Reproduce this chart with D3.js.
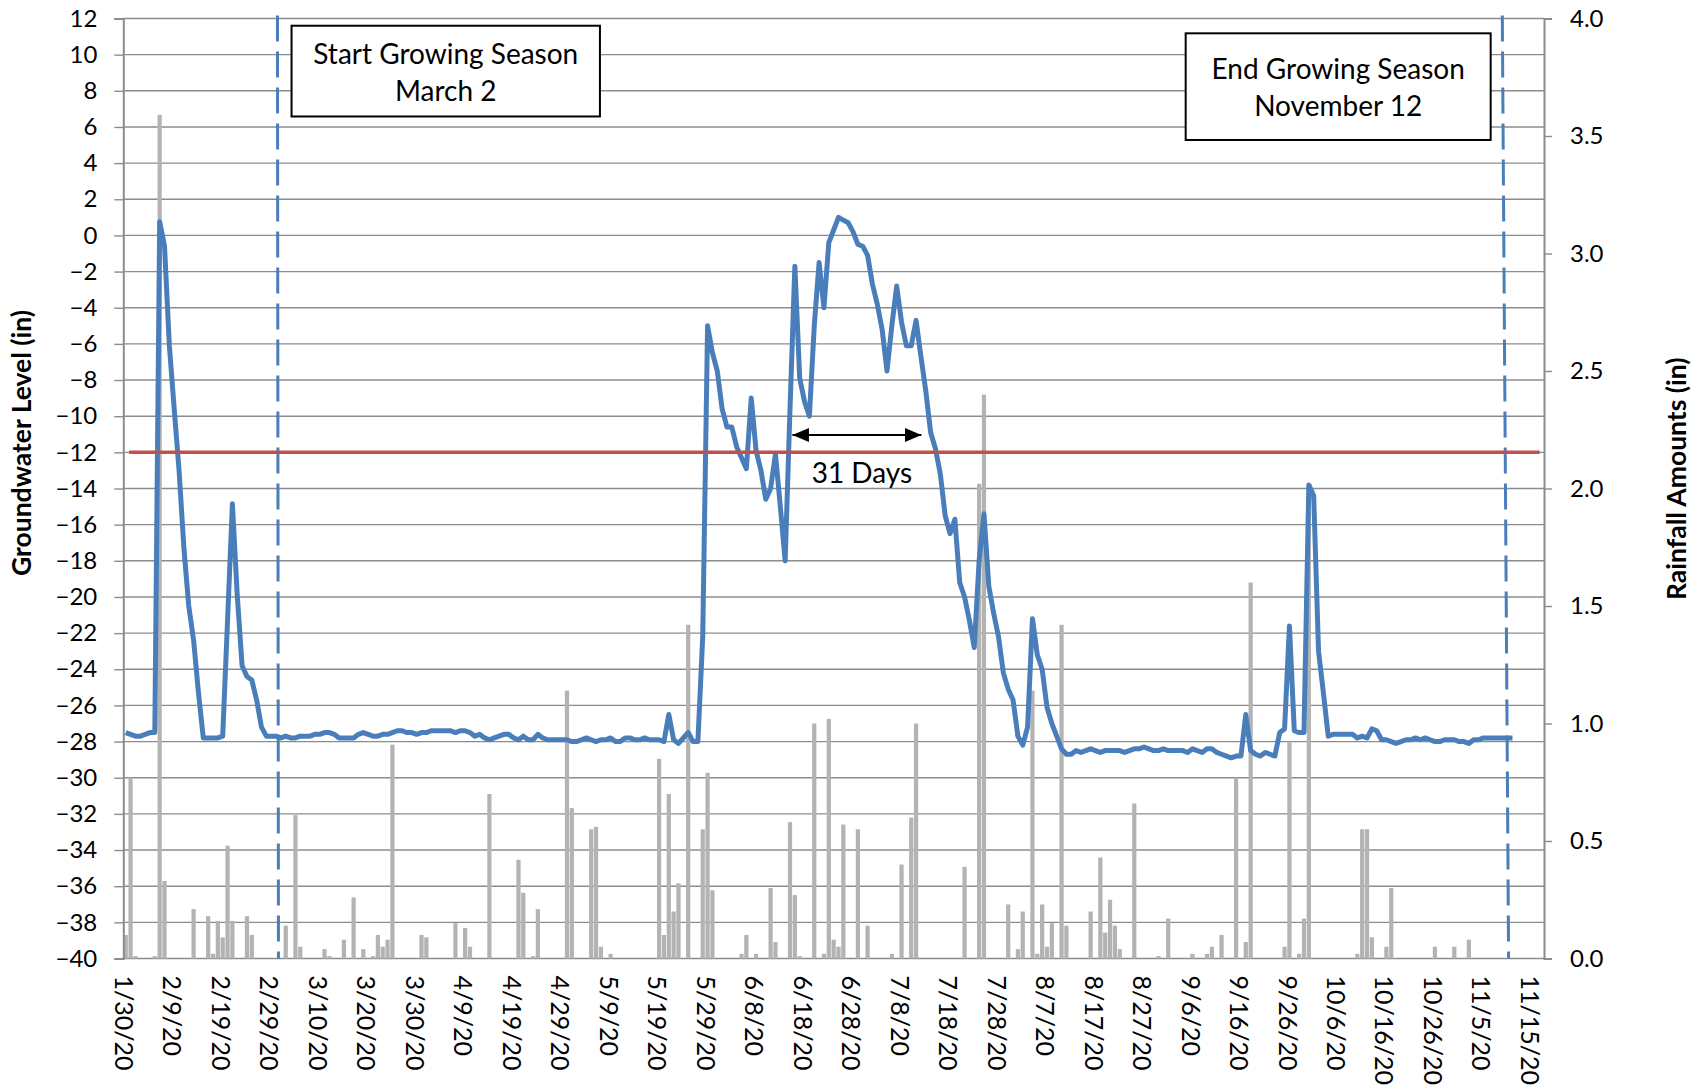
<!DOCTYPE html>
<html>
<head>
<meta charset="utf-8">
<script src="https://cdnjs.cloudflare.com/ajax/libs/d3/7.8.5/d3.min.js"></script>
<style>
body { margin: 0; background: #fff; }
svg { display: block; font-family: Lato, "Open Sans", sans-serif; }
</style>
</head>
<body>
<div id="chart"></div>
<script>
// groundwater level (in), one reading a day from 1/30/20 to 11/12/20
var startDate = "1/30/2020";
var groundwater = [
  -27.5, -27.6, -27.7, -27.7, -27.6, -27.5, -27.5, 0.76, -0.58, -6.1,
  -9.6, -13.0, -17.3, -20.5, -22.4, -25.3, -27.8, -27.8, -27.8, -27.8,
  -27.7, -21.3, -14.85, -19.9, -23.8, -24.4, -24.6, -25.7, -27.2, -27.7,
  -27.7, -27.7, -27.8, -27.7, -27.8, -27.8, -27.7, -27.7, -27.7, -27.6,
  -27.6, -27.5, -27.5, -27.6, -27.8, -27.8, -27.8, -27.8, -27.6, -27.5,
  -27.6, -27.7, -27.7, -27.6, -27.6, -27.5, -27.4, -27.4, -27.5, -27.5,
  -27.6, -27.5, -27.5, -27.4, -27.4, -27.4, -27.4, -27.4, -27.5, -27.4,
  -27.4, -27.5, -27.7, -27.6, -27.8, -27.9, -27.8, -27.7, -27.6, -27.6,
  -27.8, -27.9, -27.7, -27.9, -27.9, -27.6, -27.8, -27.9, -27.9, -27.9,
  -27.9, -27.9, -28.0, -28.0, -27.9, -27.8, -27.9, -28.0, -27.9, -27.9,
  -27.8, -28.0, -28.0, -27.8, -27.8, -27.9, -27.9, -27.8, -27.9, -27.9,
  -27.9, -28.0, -26.5, -27.9, -28.1, -27.8, -27.5, -28.0, -28.0, -22.2,
  -5.0, -6.5, -7.5, -9.6, -10.6, -10.6, -11.7, -12.3, -12.9, -9.0,
  -11.9, -13.0, -14.6, -14.0, -12.1, -15.0, -18.0, -9.6, -1.7, -7.9,
  -9.2, -10.0, -5.0, -1.5, -4.0, -0.4, 0.3, 1.0, 0.85, 0.7,
  0.2, -0.5, -0.6, -1.1, -2.7, -3.8, -5.2, -7.5, -5.0, -2.8,
  -4.8, -6.1, -6.1, -4.7, -6.7, -8.6, -10.9, -11.8, -13.2, -15.5,
  -16.5, -15.7, -19.2, -20.0, -21.3, -22.8, -18.0, -15.4, -19.4, -20.9,
  -22.2, -24.2, -25.1, -25.7, -27.7, -28.2, -27.2, -21.2, -23.2, -24.0,
  -26.1, -27.0, -27.7, -28.4, -28.7, -28.7, -28.5, -28.6, -28.5, -28.4,
  -28.5, -28.6, -28.5, -28.5, -28.5, -28.5, -28.6, -28.5, -28.4, -28.4,
  -28.3, -28.4, -28.5, -28.5, -28.4, -28.5, -28.5, -28.5, -28.5, -28.6,
  -28.4, -28.5, -28.6, -28.4, -28.4, -28.6, -28.7, -28.8, -28.9, -28.8,
  -28.8, -26.5, -28.5, -28.7, -28.8, -28.6, -28.7, -28.8, -27.5, -27.3,
  -21.6, -27.4, -27.5, -27.5, -13.8, -14.4, -23.0, -25.3, -27.7, -27.6,
  -27.6, -27.6, -27.6, -27.6, -27.8, -27.7, -27.8, -27.3, -27.4, -27.9,
  -27.9, -28.0, -28.1, -28.0, -27.9, -27.9, -27.8, -27.9, -27.8, -27.9,
  -28.0, -28.0, -27.9, -27.9, -27.9, -28.0, -28.0, -28.1, -27.9, -27.9,
  -27.8, -27.8, -27.8, -27.8, -27.8, -27.8, -27.8
];

// daily rainfall (in), dry days left out
var rainDates = [
  "1/30", "1/31", "2/1", "2/5", "2/6", "2/7", "2/13", "2/16", "2/17", "2/18",
  "2/19", "2/20", "2/21", "2/24", "2/25", "3/3", "3/5", "3/6", "3/11", "3/12",
  "3/15", "3/17", "3/19", "3/21", "3/22", "3/23", "3/24", "3/25", "3/31", "4/1",
  "4/7", "4/9", "4/10", "4/14", "4/20", "4/21", "4/23", "4/24", "4/30", "5/1",
  "5/5", "5/6", "5/7", "5/9", "5/19", "5/20", "5/21", "5/22", "5/23", "5/25",
  "5/28", "5/29", "5/30", "6/5", "6/6", "6/8", "6/11", "6/12", "6/15", "6/16",
  "6/17", "6/20", "6/22", "6/23", "6/24", "6/25", "6/26", "6/29", "7/1", "7/6",
  "7/8", "7/10", "7/11", "7/21", "7/24", "7/25", "7/30", "8/1", "8/2", "8/4",
  "8/5", "8/6", "8/7", "8/8", "8/10", "8/11", "8/16", "8/18", "8/19", "8/20",
  "8/21", "8/22", "8/25", "8/30", "9/1", "9/6", "9/9", "9/10", "9/12", "9/15",
  "9/17", "9/18", "9/25", "9/26", "9/28", "9/29", "9/30", "10/10", "10/11", "10/12",
  "10/13", "10/16", "10/17", "10/26", "10/30", "11/2"
];
var rainInches = [
  0.10, 0.77, 0.01, 0.01, 3.59, 0.33, 0.21, 0.18, 0.02, 0.16,
  0.09, 0.48, 0.16, 0.18, 0.10, 0.14, 0.61, 0.05, 0.04, 0.01,
  0.08, 0.26, 0.04, 0.01, 0.10, 0.05, 0.08, 0.91, 0.10, 0.09,
  0.15, 0.13, 0.05, 0.70, 0.42, 0.28, 0.01, 0.21, 1.14, 0.64,
  0.55, 0.56, 0.05, 0.02, 0.85, 0.10, 0.70, 0.20, 0.32, 1.42,
  0.55, 0.79, 0.29, 0.02, 0.10, 0.02, 0.30, 0.07, 0.58, 0.27,
  0.01, 1.00, 0.02, 1.02, 0.08, 0.05, 0.57, 0.55, 0.14, 0.02,
  0.40, 0.60, 1.00, 0.39, 2.02, 2.40, 0.23, 0.04, 0.20, 1.14,
  0.02, 0.23, 0.05, 0.15, 1.42, 0.14, 0.20, 0.43, 0.11, 0.25,
  0.14, 0.04, 0.66, 0.01, 0.17, 0.02, 0.02, 0.05, 0.10, 0.77,
  0.07, 1.60, 0.05, 0.92, 0.02, 0.17, 1.90, 0.02, 0.55, 0.55,
  0.09, 0.05, 0.30, 0.05, 0.05, 0.08
];

var levelTicks = [-40, -38, -36, -34, -32, -30, -28, -26, -24, -22, -20, -18, -16, -14,
  -12, -10, -8, -6, -4, -2, 0, 2, 4, 6, 8, 10, 12];
var rainTicks = [0, 0.5, 1, 1.5, 2, 2.5, 3, 3.5, 4];
var dateTicks = ["1/30/20", "2/9/20", "2/19/20", "2/29/20", "3/10/20", "3/20/20", "3/30/20",
  "4/9/20", "4/19/20", "4/29/20", "5/9/20", "5/19/20", "5/29/20", "6/8/20", "6/18/20",
  "6/28/20", "7/8/20", "7/18/20", "7/28/20", "8/7/20", "8/17/20", "8/27/20", "9/6/20",
  "9/16/20", "9/26/20", "10/6/20", "10/16/20", "10/26/20", "11/5/20", "11/15/20"];

var axisEnd = "11/18/2020";
var seasonStart = "3/2/2020",
    seasonEnd = "11/12/2020";
var threshold = -12;
var daysAbove = 31;

var margin = {top: 18.5, right: 156, bottom: 127.5, left: 123.3},
    width = 1700 - margin.left - margin.right,
    height = 1086 - margin.top - margin.bottom;

var parseFull = d3.utcParse("%m/%d/%Y"),
    parseTick = d3.utcParse("%m/%d/%y"),
    day = 864e5;

var start = parseFull(startDate);
function dayAt(n) { return new Date(+start + n * day); }

var gw = groundwater.map(function(v, i) { return {date: d3.utcDay.offset(start, i), value: v}; });
var rain = rainDates.map(function(d, i) { return {date: parseFull(d + "/2020"), value: rainInches[i]}; });

var x = d3.scaleUtc()
    .domain([start, parseFull(axisEnd)])
    .range([0, width]);
var y = d3.scaleLinear().domain([-40, 12]).range([height, 0]);
var yRain = d3.scaleLinear().domain([0, 4]).range([height, 0]);

var dayW = x(dayAt(1)) - x(start);

var svg = d3.select("#chart").append("svg")
    .attr("width", 1700)
    .attr("height", 1086)
  .append("g")
    .attr("transform", "translate(" + margin.left + "," + margin.top + ")");

// gridlines
svg.append("g").selectAll("line")
    .data(levelTicks)
  .enter().append("line")
    .attr("x1", 0).attr("x2", width)
    .attr("y1", function(d) { return y(d); })
    .attr("y2", function(d) { return y(d); })
    .attr("stroke", "#8c8c8c")
    .attr("stroke-width", 1.4);

// rainfall columns
svg.append("g").selectAll("rect")
    .data(rain)
  .enter().append("rect")
    .attr("x", function(d) { return x(d.date) + dayW * 0.065; })
    .attr("width", dayW * 0.87)
    .attr("y", function(d) { return yRain(d.value); })
    .attr("height", function(d) { return height - yRain(d.value); })
    .attr("fill", "#b3b3b3");

// axes
var left = svg.append("g")
    .call(d3.axisLeft(y).tickValues(levelTicks).tickSize(9).tickPadding(17));
var right = svg.append("g")
    .attr("transform", "translate(" + width + ",0)")
    .call(d3.axisRight(yRain).tickValues(rainTicks).tickSize(8).tickPadding(18).tickFormat(d3.format(".1f")));
var bottom = svg.append("g")
    .attr("transform", "translate(0," + height + ")")
    .call(d3.axisBottom(x).tickValues(dateTicks.map(parseTick)).tickSize(0).tickFormat(d3.utcFormat("%-m/%-d/%y")));

[left, right, bottom].forEach(function(g) {
  g.selectAll("path.domain").attr("stroke", "#8c8c8c").attr("stroke-width", 2);
  g.selectAll(".tick line").attr("stroke", "#8c8c8c").attr("stroke-width", 1.4);
  g.selectAll("text").attr("fill", "#000").style("font-size", "24px").style("font-family", "Lato");
});
bottom.select("path.domain").remove();
bottom.selectAll("text")
    .attr("transform", "rotate(90)")
    .attr("x", 17)
    .attr("y", 0)
    .attr("dy", "0.36em")
    .attr("text-anchor", "start")
    .style("font-size", "25px");

// growing season markers
svg.append("line")
    .attr("x1", x(parseFull(seasonStart)) - 1).attr("x2", x(parseFull(seasonStart)))
    .attr("y1", -3).attr("y2", height)
    .attr("stroke", "#4a7ebb").attr("stroke-width", 3)
    .attr("stroke-dasharray", "26,10");
svg.append("line")
    .attr("x1", x(parseFull(seasonEnd)) - 12.6).attr("x2", x(parseFull(seasonEnd)) - 6.3)
    .attr("y1", -3).attr("y2", height)
    .attr("stroke", "#4a7ebb").attr("stroke-width", 3)
    .attr("stroke-dasharray", "26,10");

// groundwater line
var line = d3.line()
    .x(function(d) { return x(d.date) + dayW / 2; })
    .y(function(d) { return y(d.value); });

svg.append("path")
    .datum(gw)
    .attr("d", line)
    .attr("fill", "none")
    .attr("stroke", "#4a7ebb")
    .attr("stroke-width", 5)
    .attr("stroke-linejoin", "round");

// -12 in threshold
svg.append("line")
    .attr("x1", x(dayAt(1.2))).attr("x2", x(dayAt(292.1)))
    .attr("y1", y(threshold)).attr("y2", y(threshold))
    .attr("stroke", "#c0504d")
    .attr("stroke-width", 3.5);

// 31 day arrow
var defs = svg.append("defs");
["head-end", "head-start"].forEach(function(id, i) {
  defs.append("marker")
      .attr("id", id)
      .attr("markerUnits", "userSpaceOnUse")
      .attr("markerWidth", 18).attr("markerHeight", 16)
      .attr("viewBox", "0 -8 18 16")
      .attr("refX", 16.5).attr("refY", 0)
      .attr("orient", i ? "auto-start-reverse" : "auto")
    .append("path")
      .attr("d", "M0,-7L16.5,0L0,7Z")
      .attr("fill", "#000");
});
svg.append("line")
    .attr("x1", x(dayAt(138.0))).attr("x2", x(dayAt(164.6)))
    .attr("y1", y(-11.04)).attr("y2", y(-11.04))
    .attr("stroke", "#000")
    .attr("stroke-width", 2)
    .attr("marker-start", "url(#head-start)")
    .attr("marker-end", "url(#head-end)");
svg.append("text")
    .attr("x", (x(dayAt(138.0)) + x(dayAt(164.6))) / 2 + 5)
    .attr("y", y(-11.04) + 48.3)
    .attr("text-anchor", "middle")
    .style("font-size", "28px")
    .text(daysAbove + " Days");

// text boxes
function note(d0, d1, v0, v1, lines) {
  var g = svg.append("g");
  var bx = x(dayAt(d0)), bw = x(dayAt(d1)) - bx,
      by = y(v0), bh = y(v1) - by;
  g.append("rect")
      .attr("x", bx).attr("y", by)
      .attr("width", bw).attr("height", bh)
      .attr("fill", "#fff")
      .attr("stroke", "#000")
      .attr("stroke-width", 2);
  g.selectAll("text")
      .data(lines)
    .enter().append("text")
      .attr("x", bx + bw / 2)
      .attr("y", function(d, i) { return by + bh / 2 + 1 + (i - 0.5) * 36.7; })
      .attr("dy", "0.36em")
      .attr("text-anchor", "middle")
      .style("font-size", "28px")
      .text(function(d) { return d; });
}
note(34.7, 98.3, 11.6, 6.58, ["Start Growing Season", "March 2"]);
note(219.1, 282, 11.18, 5.28, ["End Growing Season", "November 12"]);

// axis titles
svg.append("text")
    .attr("transform", "translate(" + (21.7 - margin.left) + "," + (443 - margin.top) + ") rotate(-90)")
    .attr("dy", "0.36em")
    .attr("text-anchor", "middle")
    .style("font-size", "26.5px")
    .style("font-weight", "bold")
    .text("Groundwater Level (in)");
svg.append("text")
    .attr("transform", "translate(" + (1676 - margin.left) + "," + (478.7 - margin.top) + ") rotate(-90)")
    .attr("dy", "0.36em")
    .attr("text-anchor", "middle")
    .style("font-size", "26.5px")
    .style("font-weight", "bold")
    .text("Rainfall Amounts (in)");
</script>
</body>
</html>
